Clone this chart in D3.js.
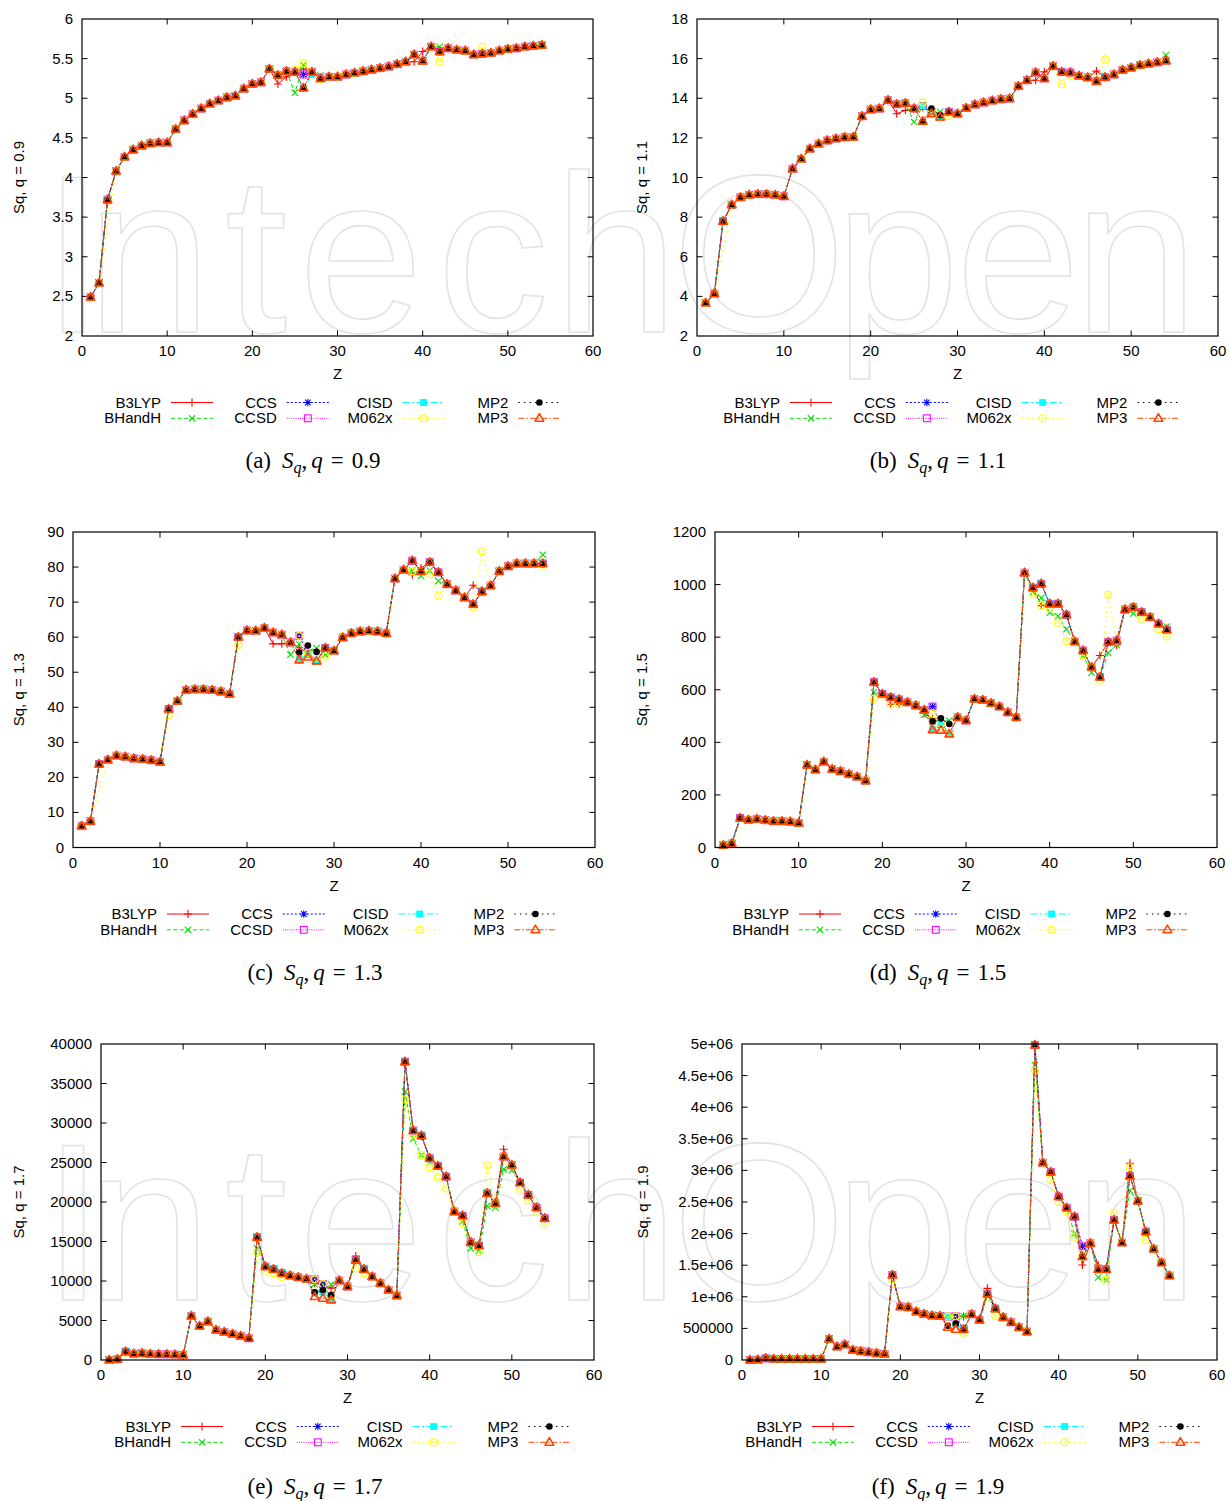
<!DOCTYPE html>
<html><head><meta charset="utf-8">
<script src="https://cdn.jsdelivr.net/npm/d3@7"></script>
<style>body{margin:0;background:#fff}svg{display:block}</style>
</head><body>
<svg id="c" width="1229" height="1501"></svg>
<script>
// ---------------- DATA ----------------
const Z = d3.range(1, 55);
const seriesNames = ["B3LYP","BHandH","CCS","CCSD","CISD","M062x","MP2","MP3"];
const xTicks = [0,10,20,30,40,50,60];

// consensus curves (values shared by most methods), Z = 1..54
const sq09 = [2.49,2.67,3.72,4.08,4.26,4.35,4.40,4.43,4.44,4.44,
  4.61,4.72,4.80,4.87,4.93,4.97,5.01,5.03,5.12,5.18,
  5.20,5.37,5.29,5.34,5.33,5.30,5.33,5.25,5.27,5.27,
  5.30,5.32,5.34,5.36,5.38,5.40,5.43,5.46,5.55,5.47,
  5.65,5.59,5.63,5.61,5.60,5.55,5.56,5.57,5.60,5.62,
  5.63,5.65,5.66,5.67];
const dev09 = {
  B3LYP:{23:5.18,24:5.27,26:5.37,39:5.46,40:5.59},
  BHandH:{25:5.07,26:5.42,28:5.29,42:5.65},
  CCS:{}, CCSD:{},
  CISD:{26:5.13,27:5.30,42:5.58},
  M062x:{3:null,25:5.36,26:5.44,28:5.24,42:5.46,47:5.65},
  MP2:{26:5.13},
  MP3:{26:5.13}
};

const sq11 = [3.67,4.14,7.79,8.62,9.00,9.12,9.16,9.16,9.12,9.05,
  10.44,10.94,11.45,11.70,11.87,11.96,12.03,12.04,13.09,13.43,
  13.48,13.90,13.70,13.75,13.48,13.61,13.30,13.05,13.31,13.22,
  13.51,13.68,13.78,13.88,13.95,13.98,14.61,14.91,15.30,15.00,
  15.62,15.33,15.30,15.13,15.05,14.86,15.06,15.20,15.42,15.54,
  15.67,15.74,15.81,15.89];
const dev11 = {
  B3LYP:{23:13.22,24:13.39,26:13.55,39:14.91,40:15.33,46:15.37},
  BHandH:{25:12.80,28:13.31,54:16.18},
  CCS:{}, CCSD:{}, CISD:{},
  M062x:{3:null,26:13.78,29:13.10,42:14.71,43:15.15,47:15.96},
  MP2:{26:12.84,27:13.48,28:13.15},
  MP3:{26:12.84,27:13.22}
};

const sq13 = [6.1,7.5,23.8,25.0,26.2,25.9,25.4,25.2,24.9,24.4,
  39.5,41.8,44.9,45.1,45.1,44.9,44.5,43.8,60.0,61.9,
  61.8,62.6,61.3,60.7,58.5,60.4,55.5,53.2,56.9,56.1,
  59.9,61.1,61.6,61.8,61.6,61.1,76.7,79.2,81.8,78.8,
  81.4,78.5,75.1,73.3,71.3,69.4,73.0,74.7,78.8,80.2,
  81.0,81.0,81.0,81.0];
const dev13 = {
  B3LYP:{23:58.1,24:58.1,26:57.0,39:77.8,40:79.7,46:74.8},
  BHandH:{25:55.0,26:58.0,28:56.9,29:55.0,39:79.0,40:77.5,41:79.0,42:76.0,54:83.5},
  CCS:{}, CCSD:{},
  CISD:{26:53.8,27:55.0},
  M062x:{3:null,11:37.8,19:57.8,29:54.5,39:78.8,41:78.0,42:71.8,46:68.5,47:84.5,54:80.2},
  MP2:{26:55.6,27:57.6,28:55.8},
  MP3:{26:53.5,27:54.3}
};

const sq15 = [9,15,112,105,108,104,100,100,98,93,
  314,296,326,298,290,279,269,254,629,584,
  571,563,552,540,523,536,470,432,495,483,
  565,561,549,536,514,495,1045,988,1003,927,
  927,885,783,749,686,648,781,787,905,914,
  895,876,851,828];
const dev15 = {
  B3LYP:{21:545,22:545,25:510,26:490,39:920,46:730,48:770},
  BHandH:{19:590,25:505,26:480,27:485,28:483,38:971,39:950,40:893,41:880,42:830,44:730,45:665,47:740,48:770,50:890,54:840},
  CCS:{}, CCSD:{},
  CISD:{26:448,28:432},
  M062x:{3:null,19:565,20:575,21:545,22:545,26:510,38:965,39:920,40:910,41:855,42:785,44:730,46:635,47:961,51:870,53:830,54:803},
  MP2:{26:479,27:491,28:470},
  MP3:{26:448,27:446}
};

const sq17 = [10,100,1060,800,850,760,720,720,680,640,
  5570,4300,4860,3800,3550,3300,3040,2750,15530,11820,
  11480,10970,10680,10470,10260,10210,9600,7700,10050,9290,
  12660,11480,10550,9710,8860,8150,37760,29030,28400,25530,
  24560,23210,18780,18270,14900,14480,21100,19830,25740,24680,
  22450,20890,19290,17940];
const dev17 = {
  B3LYP:{26:9700,27:9500,28:9100,31:13170,49:26670},
  BHandH:{19:14140,26:9600,27:9710,28:9580,37:33970,38:28000,39:25950,40:25000,44:17500,45:14140,46:13800,47:19500,48:19300,49:24140,50:24000},
  CCS:{}, CCSD:{},
  CISD:{26:8500,27:8600},
  M062x:{3:null,19:13600,20:11300,21:11000,22:10500,31:11600,32:11000,37:33000,38:28500,39:25950,40:24400,41:23100,42:21700,44:17300,46:13630,47:24680,51:21500,52:20200,53:18900,54:17180},
  MP2:{26:8570,27:8860,28:8230},
  MP3:{26:8020,27:7810,28:7600}
};

const sq19 = [500,5000,26000,16000,16000,16000,16000,16000,16000,15000,
  332000,211000,243000,158000,137000,122000,106000,95000,1345000,844000,
  833000,765000,728000,702000,696000,686000,690000,485000,723000,633000,
  1045000,812000,675000,596000,517000,449000,4984000,3122000,2975000,2585000,
  2410000,2268000,1635000,1846000,1435000,1435000,2215000,1857000,2911000,2516000,
  2031000,1757000,1540000,1335000];
const dev19 = {
  B3LYP:{28:690000,31:1134000,43:1503000,45:1500000,49:3112000},
  BHandH:{26:696000,28:696000,37:4668000,42:2000000,45:1308000,46:1266000,49:2679000},
  CCS:{43:1800000}, CCSD:{43:1800000},
  CISD:{27:560000},
  M062x:{3:null,19:1270000,28:433000,31:1000000,32:700000,37:4578000,39:2850000,40:2500000,41:2350000,42:1952000,46:1266000,47:2331000,49:3050000,51:1900000},
  MP2:{26:543000,27:575000},
  MP3:{26:517000,27:485000}
};

const yTicks09 = [2,2.5,3,3.5,4,4.5,5,5.5,6];
const yTicks11 = [2,4,6,8,10,12,14,16,18];
const yTicks13 = [0,10,20,30,40,50,60,70,80,90];
const yTicks15 = [0,200,400,600,800,1000,1200];
const yTicks17 = [0,5000,10000,15000,20000,25000,30000,35000,40000];
const yTicks19 = [0,500000,1000000,1500000,2000000,2500000,3000000,3500000,4000000,4500000,5000000];
const yLabels19 = ["0","500000","1e+06","1.5e+06","2e+06","2.5e+06","3e+06","3.5e+06","4e+06","4.5e+06","5e+06"];

// ---------------- STYLE / LAYOUT ----------------
const styles = {
  B3LYP:{color:"#ff0000", dash:null, m:"plus"},
  BHandH:{color:"#00e600", dash:"4,2.5", m:"cross"},
  CCS:{color:"#0000ff", dash:"2,2", m:"star"},
  CCSD:{color:"#ff00ff", dash:"1,1.2", m:"osq"},
  CISD:{color:"#00ffff", dash:"7,2.5,2,2.5", m:"fsq"},
  M062x:{color:"#ffff00", dash:"2,3", m:"ocirc"},
  MP2:{color:"#000000", dash:"1.5,4", m:"fcirc"},
  MP3:{color:"#ff4500", dash:"6,2,1.5,2", m:"otri"}
};
const FONT = "'Liberation Sans', Arial, Helvetica, sans-serif";
const SERIF = "'Liberation Serif', 'Times New Roman', serif";

const panels = [
  {tag:"a", base:sq09, over:dev09, ticks:yTicks09, labels:null, L:82, R:593, T:19, B:336, ylab:"Sq, q = 0.9", ylabX:19, legX:161, legY:402.5, capX:313, capY:461, q:"0.9"},
  {tag:"b", base:sq11, over:dev11, ticks:yTicks11, labels:null, L:697, R:1218, T:19, B:336, ylab:"Sq, q = 1.1", ylabX:642, legX:780, legY:402.5, capX:938, capY:461, q:"1.1"},
  {tag:"c", base:sq13, over:dev13, ticks:yTicks13, labels:null, L:73, R:595, T:532, B:847.5, ylab:"Sq, q = 1.3", ylabX:19, legX:157, legY:914, capX:315, capY:973, q:"1.3"},
  {tag:"d", base:sq15, over:dev15, ticks:yTicks15, labels:null, L:715, R:1217, T:532, B:847.5, ylab:"Sq, q = 1.5", ylabX:642, legX:789, legY:914, capX:938, capY:973, q:"1.5"},
  {tag:"e", base:sq17, over:dev17, ticks:yTicks17, labels:null, L:101, R:594, T:1044, B:1360, ylab:"Sq, q = 1.7", ylabX:19, legX:171, legY:1426.5, capX:315, capY:1487, q:"1.7"},
  {tag:"f", base:sq19, over:dev19, ticks:yTicks19, labels:yLabels19, L:742, R:1217, T:1044, B:1360, ylab:"Sq, q = 1.9", ylabX:643, legX:802, legY:1426.5, capX:938, capY:1487, q:"1.9"}
];

const svg = d3.select("#c");

// ---------------- watermark (one text per row) ----------------
const wmWord = "IntechOpen";
const wmX = [73,149,256,361,493,616,759,897,1018,1136];
const wmBase = [332, 1300];
svg.append("g").selectAll(null).data(wmBase).enter().append("text")
  .attr("x", wmX.join(" ")).attr("y", d=>d)
  .attr("text-anchor","middle")
  .attr("font-family",FONT).attr("font-size",224)
  .attr("fill","none").attr("stroke","#e3e3e3").attr("stroke-width",1.6)
  .attr("stroke-linejoin","round")
  .text(wmWord);

// ---------------- markers ----------------
function marker(g, type, color, cx, cy) {
  const s = 3.4;
  if (type === "plus") {
    g.append("path").attr("d",`M${cx-4},${cy}H${cx+4}M${cx},${cy-4}V${cy+4}`).attr("stroke",color).attr("stroke-width",1.1);
  } else if (type === "cross") {
    g.append("path").attr("d",`M${cx-3.2},${cy-3.2}L${cx+3.2},${cy+3.2}M${cx-3.2},${cy+3.2}L${cx+3.2},${cy-3.2}`).attr("stroke",color).attr("stroke-width",1.1);
  } else if (type === "star") {
    g.append("path").attr("d",`M${cx-3.8},${cy}H${cx+3.8}M${cx},${cy-3.8}V${cy+3.8}M${cx-2.8},${cy-2.8}L${cx+2.8},${cy+2.8}M${cx-2.8},${cy+2.8}L${cx+2.8},${cy-2.8}`).attr("stroke",color).attr("stroke-width",1.1);
  } else if (type === "osq") {
    g.append("rect").attr("x",cx-s).attr("y",cy-s).attr("width",2*s).attr("height",2*s).attr("fill","none").attr("stroke",color).attr("stroke-width",1.1);
  } else if (type === "fsq") {
    g.append("rect").attr("x",cx-s).attr("y",cy-s).attr("width",2*s).attr("height",2*s).attr("fill",color);
  } else if (type === "ocirc") {
    g.append("circle").attr("cx",cx).attr("cy",cy).attr("r",3.5).attr("fill","none").attr("stroke",color).attr("stroke-width",1.1);
    g.append("circle").attr("cx",cx).attr("cy",cy).attr("r",0.8).attr("fill",color);
  } else if (type === "fcirc") {
    g.append("circle").attr("cx",cx).attr("cy",cy).attr("r",3.3).attr("fill",color);
  } else if (type === "otri") {
    g.append("path").attr("d",`M${cx},${cy-4.6}L${cx+4.3},${cy+2.9}L${cx-4.3},${cy+2.9}Z`).attr("fill","none").attr("stroke",color).attr("stroke-width",1.6).attr("stroke-linejoin","round");
  }
}

function seriesData(p, name) {
  const ov = p.over[name] || {};
  return Z.map((z,i) => ({z, v: (z in ov) ? ov[z] : p.base[i]})).filter(d => d.v !== null);
}

// ---------------- panels ----------------
panels.forEach(p => {
  const x = d3.scaleLinear().domain([0,60]).range([p.L,p.R]);
  const y = d3.scaleLinear().domain([p.ticks[0], p.ticks[p.ticks.length-1]]).range([p.B,p.T]);
  const g = svg.append("g");
  const tk = 5.5;

  // ticks (inward, mirrored)
  const tg = g.append("g").attr("stroke","#000").attr("stroke-width",1);
  xTicks.forEach(t => {
    if (t===0 || t===60) return;
    tg.append("line").attr("x1",x(t)).attr("x2",x(t)).attr("y1",p.B).attr("y2",p.B-tk);
    tg.append("line").attr("x1",x(t)).attr("x2",x(t)).attr("y1",p.T).attr("y2",p.T+tk);
  });
  p.ticks.forEach((t,i) => {
    if (i===0 || i===p.ticks.length-1) return;
    tg.append("line").attr("x1",p.L).attr("x2",p.L+tk).attr("y1",y(t)).attr("y2",y(t));
    tg.append("line").attr("x1",p.R).attr("x2",p.R-tk).attr("y1",y(t)).attr("y2",y(t));
  });

  // tick labels
  g.selectAll(null).data(xTicks).enter().append("text")
    .attr("x",d=>x(d)).attr("y",p.B+20).attr("text-anchor","middle")
    .attr("font-family",FONT).attr("font-size",15).attr("fill","#000").text(d=>String(d));
  g.selectAll(null).data(p.ticks).enter().append("text")
    .attr("x",p.L-9).attr("y",d=>y(d)+5).attr("text-anchor","end")
    .attr("font-family",FONT).attr("font-size",15).attr("fill","#000")
    .text((d,i)=> p.labels ? p.labels[i] : String(d));

  // axis titles
  g.append("text").attr("x",(p.L+p.R)/2).attr("y",p.B+43).attr("text-anchor","middle")
    .attr("font-family",FONT).attr("font-size",15).text("Z");
  g.append("text").attr("transform",`translate(${p.ylabX+5},${(p.T+p.B)/2}) rotate(-90)`)
    .attr("text-anchor","middle").attr("font-family",FONT).attr("font-size",15).text(p.ylab);

  // series
  const line = d3.line().x(d=>x(d.z)).y(d=>y(d.v));
  const sg = g.append("g");
  seriesNames.forEach(name => {
    const st = styles[name];
    const data = seriesData(p, name);
    const one = sg.append("g");
    one.append("path").datum(data).attr("d",line).attr("fill","none")
      .attr("stroke",st.color).attr("stroke-width",1)
      .attr("stroke-dasharray",st.dash);
    data.forEach(d => marker(one, st.m, st.color, x(d.z), y(d.v)));
  });

  // frame
  g.append("rect").attr("x",p.L).attr("y",p.T).attr("width",p.R-p.L).attr("height",p.B-p.T)
    .attr("fill","none").attr("stroke","#000").attr("stroke-width",1.2);

  // legend
  const lg = g.append("g");
  seriesNames.forEach((name,i) => {
    const st = styles[name];
    const col = Math.floor(i/2), row = i%2;
    const tx = p.legX + col*115.8, ty = p.legY + row*15.8;
    lg.append("text").attr("x",tx).attr("y",ty+5).attr("text-anchor","end")
      .attr("font-family",FONT).attr("font-size",15).text(name);
    lg.append("line").attr("x1",tx+10).attr("x2",tx+52).attr("y1",ty).attr("y2",ty)
      .attr("stroke",st.color).attr("stroke-width",1).attr("stroke-dasharray",st.dash);
    marker(lg, st.m, st.color, tx+31, ty);
  });

  // caption
  const cap = g.append("text").attr("x",p.capX).attr("y",p.capY+7).attr("text-anchor","middle")
    .attr("font-family",SERIF).attr("font-size",23).attr("fill","#000");
  cap.append("tspan").text(`(${p.tag})`);
  cap.append("tspan").attr("dx",11).attr("font-style","italic").text("S");
  cap.append("tspan").attr("font-style","italic").attr("font-size",16).attr("dy",5).text("q");
  cap.append("tspan").attr("dy",-5).text(",");
  cap.append("tspan").attr("dx",4).attr("font-style","italic").text("q");
  cap.append("tspan").attr("dx",8).text("=");
  cap.append("tspan").attr("dx",8).text(p.q);
});
</script>
</body></html>
